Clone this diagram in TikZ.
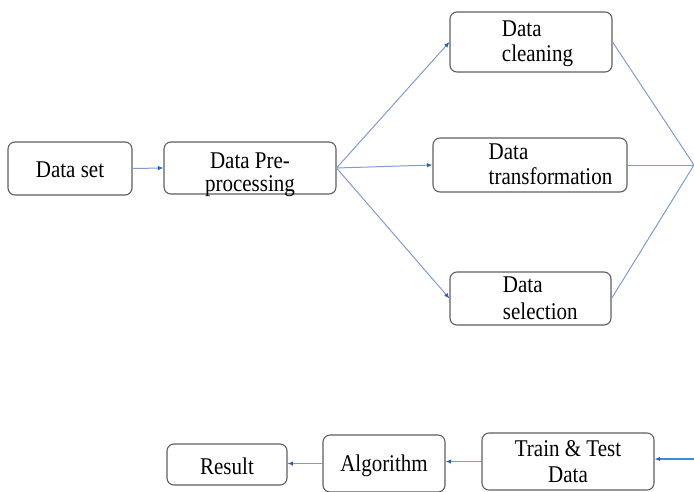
\documentclass[tikz,border=0pt]{standalone}
\usepackage{fontspec}
\setmainfont[FakeStretch=0.875]{Liberation Serif}
\usetikzlibrary{arrows.meta}

\definecolor{boxline}{RGB}{95,95,95}
\definecolor{linkblue}{RGB}{130,155,205}
\definecolor{tipblue}{RGB}{55,95,175}
\definecolor{feedblue}{RGB}{60,140,210}

\tikzset{
  stagebox/.style={draw=boxline, line width=1.1pt, rounded corners=7pt,
    fill=white, inner sep=0pt},
  caption/.style={inner sep=0pt, font=\fontsize{24}{25}\selectfont},
  link/.style={draw=linkblue, line width=1pt},
  flow/.style={link, -{Latex[length=5.5pt,width=4.5pt,color=tipblue]}},
  feed/.style={draw=feedblue, line width=1.9pt,
    -{Latex[length=5.5pt,width=4.5pt,color=tipblue]}}
}

\begin{document}
\begin{tikzpicture}[x=1pt, y=-1pt]
  \useasboundingbox (0,0) rectangle (694,491);

  % processing stages
  \node[stagebox, minimum width=124pt, minimum height=53pt] (set) at (70,168.5) {};
  \node[caption] (setT) at (70,170) {Data set};

  \node[stagebox, minimum width=172pt, minimum height=52pt] (pre) at (250,168) {};
  \node[caption, align=center, font=\fontsize{24}{23}\selectfont] (preT) at (250,175) {Data Pre-\\processing};

  \node[stagebox, minimum width=162pt, minimum height=60pt] (clean) at (531,42) {};
  \node[caption, align=left] (cleanT) at (537.5,44) {Data\\cleaning};

  \node[stagebox, minimum width=194pt, minimum height=54pt] (trans) at (530,165) {};
  \node[caption, align=left] (transT) at (550.5,164.5) {Data\\transformation};

  \node[stagebox, minimum width=161pt, minimum height=53pt] (sel) at (530.5,298.5) {};
  \node[caption, align=left, font=\fontsize{24}{27}\selectfont] (selT) at (540.3,298.5) {Data\\selection};

  \node[stagebox, minimum width=120pt, minimum height=41pt] (result) at (227,464.5) {};
  \node[caption] (resultT) at (227,466) {Result};

  \node[stagebox, minimum width=122pt, minimum height=57pt] (algo) at (384,463.5) {};
  \node[caption] (algoT) at (384,466) {Algorithm};

  \node[stagebox, minimum width=172pt, minimum height=57pt] (train) at (568,461.5) {};
  \node[caption, align=center, font=\fontsize{24}{26}\selectfont] (trainT) at (568,462) {Train \& Test\\Data};

  % free ends at the right margin
  \coordinate (hub) at (694,165);
  \coordinate (back) at (694,459);

  % connectors
  \draw[flow] (set.east) -- (pre.west);
  \draw[flow] (pre.east) -- (clean.west);
  \draw[flow] (pre.east) -- (trans.west);
  \draw[flow] (pre.east) -- (sel.west);

  \draw[link] (clean.east) -- (hub);
  \draw[link] (trans.east) -- (hub);
  \draw[link] (sel.east) -- (hub);

  \draw[feed] (back) -- (back -| train.east);
  \draw[flow] (train.west) -- (train.west -| algo.east);
  \draw[flow] (algo.west) -- (algo.west -| result.east);
\end{tikzpicture}
\end{document}
